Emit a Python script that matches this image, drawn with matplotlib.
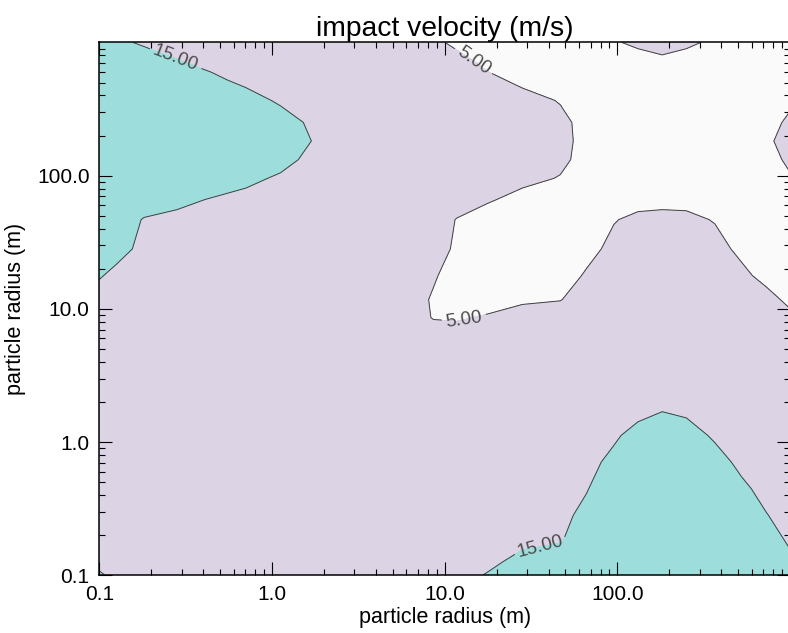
import numpy as np
import matplotlib
matplotlib.use("Agg")
import matplotlib.pyplot as plt

plt.rcParams["font.family"] = ["Liberation Sans", "DejaVu Sans"]

# grid nodes, log10 of particle radius in metres (same nodes for both particles)
LOG_RADIUS = [-1.0, -0.9, -0.74, -0.55, -0.35, -0.15, 0.05, 0.24, 0.45, 0.7, 0.935, 1.07,
              1.25, 1.45, 1.67, 1.82, 1.98, 2.12, 2.26, 2.4, 2.565, 2.72, 2.86, 3.0]

# impact velocity (m/s); row i holds the values for partner nodes j >= i,
# the table is symmetric in the two radii
VELOCITY_UPPER = [
    [15.1, 14.8, 14.4, 13.9, 13.4, 12.9, 12.3, 12.4, 12.8, 13.4, 14.0, 14.5, 15.1, 15.8, 16.3, 16.5, 16.9, 17.5, 18.2, 18.3, 17.6, 16.9, 16.2, 15.5],
    [14.6, 14.2, 13.7, 13.2, 12.7, 12.1, 12.1, 12.5, 13.1, 13.7, 14.1, 14.7, 15.4, 15.8, 16.1, 16.7, 17.4, 18.2, 18.2, 17.5, 16.7, 16.0, 15.3],
    [13.7, 13.2, 12.7, 12.2, 11.8, 11.7, 12.1, 12.5, 13.1, 13.5, 14.1, 14.7, 14.9, 15.8, 16.6, 17.3, 18.1, 18.0, 17.2, 16.4, 15.7, 14.8],
    [12.8, 12.2, 11.7, 11.3, 11.2, 11.4, 11.8, 12.4, 12.7, 13.2, 13.7, 14.6, 15.4, 16.3, 17.1, 18.0, 17.7, 16.9, 16.0, 15.1, 14.2],
    [11.7, 11.2, 10.7, 10.6, 10.8, 11.1, 11.5, 11.8, 12.2, 12.9, 14.1, 14.9, 16.0, 16.9, 17.8, 17.4, 16.4, 15.4, 14.4, 13.5],
    [10.7, 10.2, 10.0, 10.1, 10.3, 10.6, 10.8, 11.4, 12.3, 13.5, 14.4, 15.5, 16.5, 17.3, 16.8, 15.8, 14.5, 13.5, 12.6],
    [9.6, 9.4, 9.4, 9.5, 9.7, 10.0, 10.6, 11.5, 12.7, 13.7, 14.7, 15.7, 16.5, 15.9, 14.7, 13.5, 12.5, 11.5],
    [8.8, 8.7, 8.7, 8.9, 9.2, 9.8, 10.7, 11.8, 12.5, 13.5, 14.4, 14.9, 14.6, 13.5, 12.3, 11.2, 10.3],
    [8.0, 7.9, 7.9, 8.1, 8.6, 9.4, 10.4, 11.1, 11.9, 12.6, 13.0, 12.8, 12.0, 10.8, 9.8, 8.7],
    [6.9, 6.5, 6.5, 7.0, 7.7, 8.4, 9.0, 9.8, 10.5, 11.0, 10.8, 10.0, 9.1, 8.1, 7.0],
    [4.9, 4.8, 5.2, 5.8, 6.3, 7.0, 8.1, 8.8, 9.5, 9.1, 8.3, 7.4, 6.5, 5.4],
    [3.9, 4.2, 4.7, 4.9, 6.2, 7.2, 8.0, 8.7, 8.3, 7.4, 6.5, 5.6, 4.6],
    [3.1, 3.3, 4.1, 5.2, 6.3, 7.2, 7.9, 7.4, 6.5, 5.4, 4.5, 3.6],
    [2.2, 3.4, 4.4, 5.5, 6.4, 7.0, 6.6, 5.6, 4.6, 3.7, 2.9],
    [3.1, 4.0, 4.9, 5.4, 5.5, 5.4, 4.9, 4.0, 3.2, 3.9],
    [3.7, 4.1, 4.4, 4.5, 4.5, 4.1, 3.7, 3.7, 4.5],
    [3.4, 3.6, 3.7, 3.6, 3.4, 3.5, 4.2, 4.9],
    [2.9, 3.0, 3.0, 3.1, 3.9, 4.6, 5.2],
    [2.5, 2.5, 3.3, 4.1, 4.8, 5.4],
    [2.6, 3.3, 4.0, 4.6, 5.2],
    [3.2, 3.8, 4.3, 4.8],
    [3.6, 4.1, 4.5],
    [3.8, 4.2],
    [3.8],
]

CONTOUR_LEVELS = [5.0, 15.0]
FILL_COLORS = ["#fafafa", "#dcd3e4", "#9ddedc"]
MAJOR_TICKS = [-1, 0, 1, 2]

# where the contour labels sit (log10 radius coordinates)
LABEL_SPOTS = [(-0.55, 2.906), (1.164, 2.854), (1.108, 0.941), (1.552, -0.748)]


def velocity_table() -> np.ndarray:
    n = len(LOG_RADIUS)
    table = np.zeros((n, n))
    for i, row in enumerate(VELOCITY_UPPER):
        table[i, i:] = row
    return table + np.triu(table, 1).T


def main() -> None:
    x = np.array(LOG_RADIUS)
    z = velocity_table()

    fig = plt.figure(figsize=(7.88, 6.33), dpi=100)
    ax = fig.add_axes([0.126, 0.0912, 0.8765, 0.8417])

    ax.contourf(x, x, z, levels=[z.min() - 1, *CONTOUR_LEVELS, z.max() + 1], colors=FILL_COLORS)
    cs = ax.contour(x, x, z, levels=CONTOUR_LEVELS, colors="#404040", linewidths=0.7)
    ax.clabel(cs, fmt="%.2f", manual=LABEL_SPOTS, inline=True, inline_spacing=4,
              fontsize=13.5, colors="#4a4a4a")

    ax.set_xlim(-1, 3)
    ax.set_ylim(-1, 3)
    minor = [np.log10(m * 10.0 ** e) for e in range(-1, 3) for m in range(2, 10)]
    for axis in (ax.xaxis, ax.yaxis):
        axis.set_ticks(MAJOR_TICKS, [f"{10.0 ** t:.1f}" for t in MAJOR_TICKS])
        axis.set_ticks(minor, minor=True)
    ax.tick_params(which="both", direction="in", top=True, right=True, labelsize=15, pad=7)
    ax.tick_params(which="major", length=9.5, width=0.8)
    ax.tick_params(which="minor", length=4, width=0.8)
    for spine in ax.spines.values():
        spine.set_linewidth(1.1)

    ax.set_title("impact velocity (m/s)", fontsize=20.3, pad=5)
    ax.set_xlabel("particle radius (m)", fontsize=15.5, labelpad=2)
    ax.set_ylabel("particle radius (m)", fontsize=15.5, labelpad=8)

    fig.savefig("out.png", dpi=100)
    plt.close(fig)


if __name__ == "__main__":
    main()
